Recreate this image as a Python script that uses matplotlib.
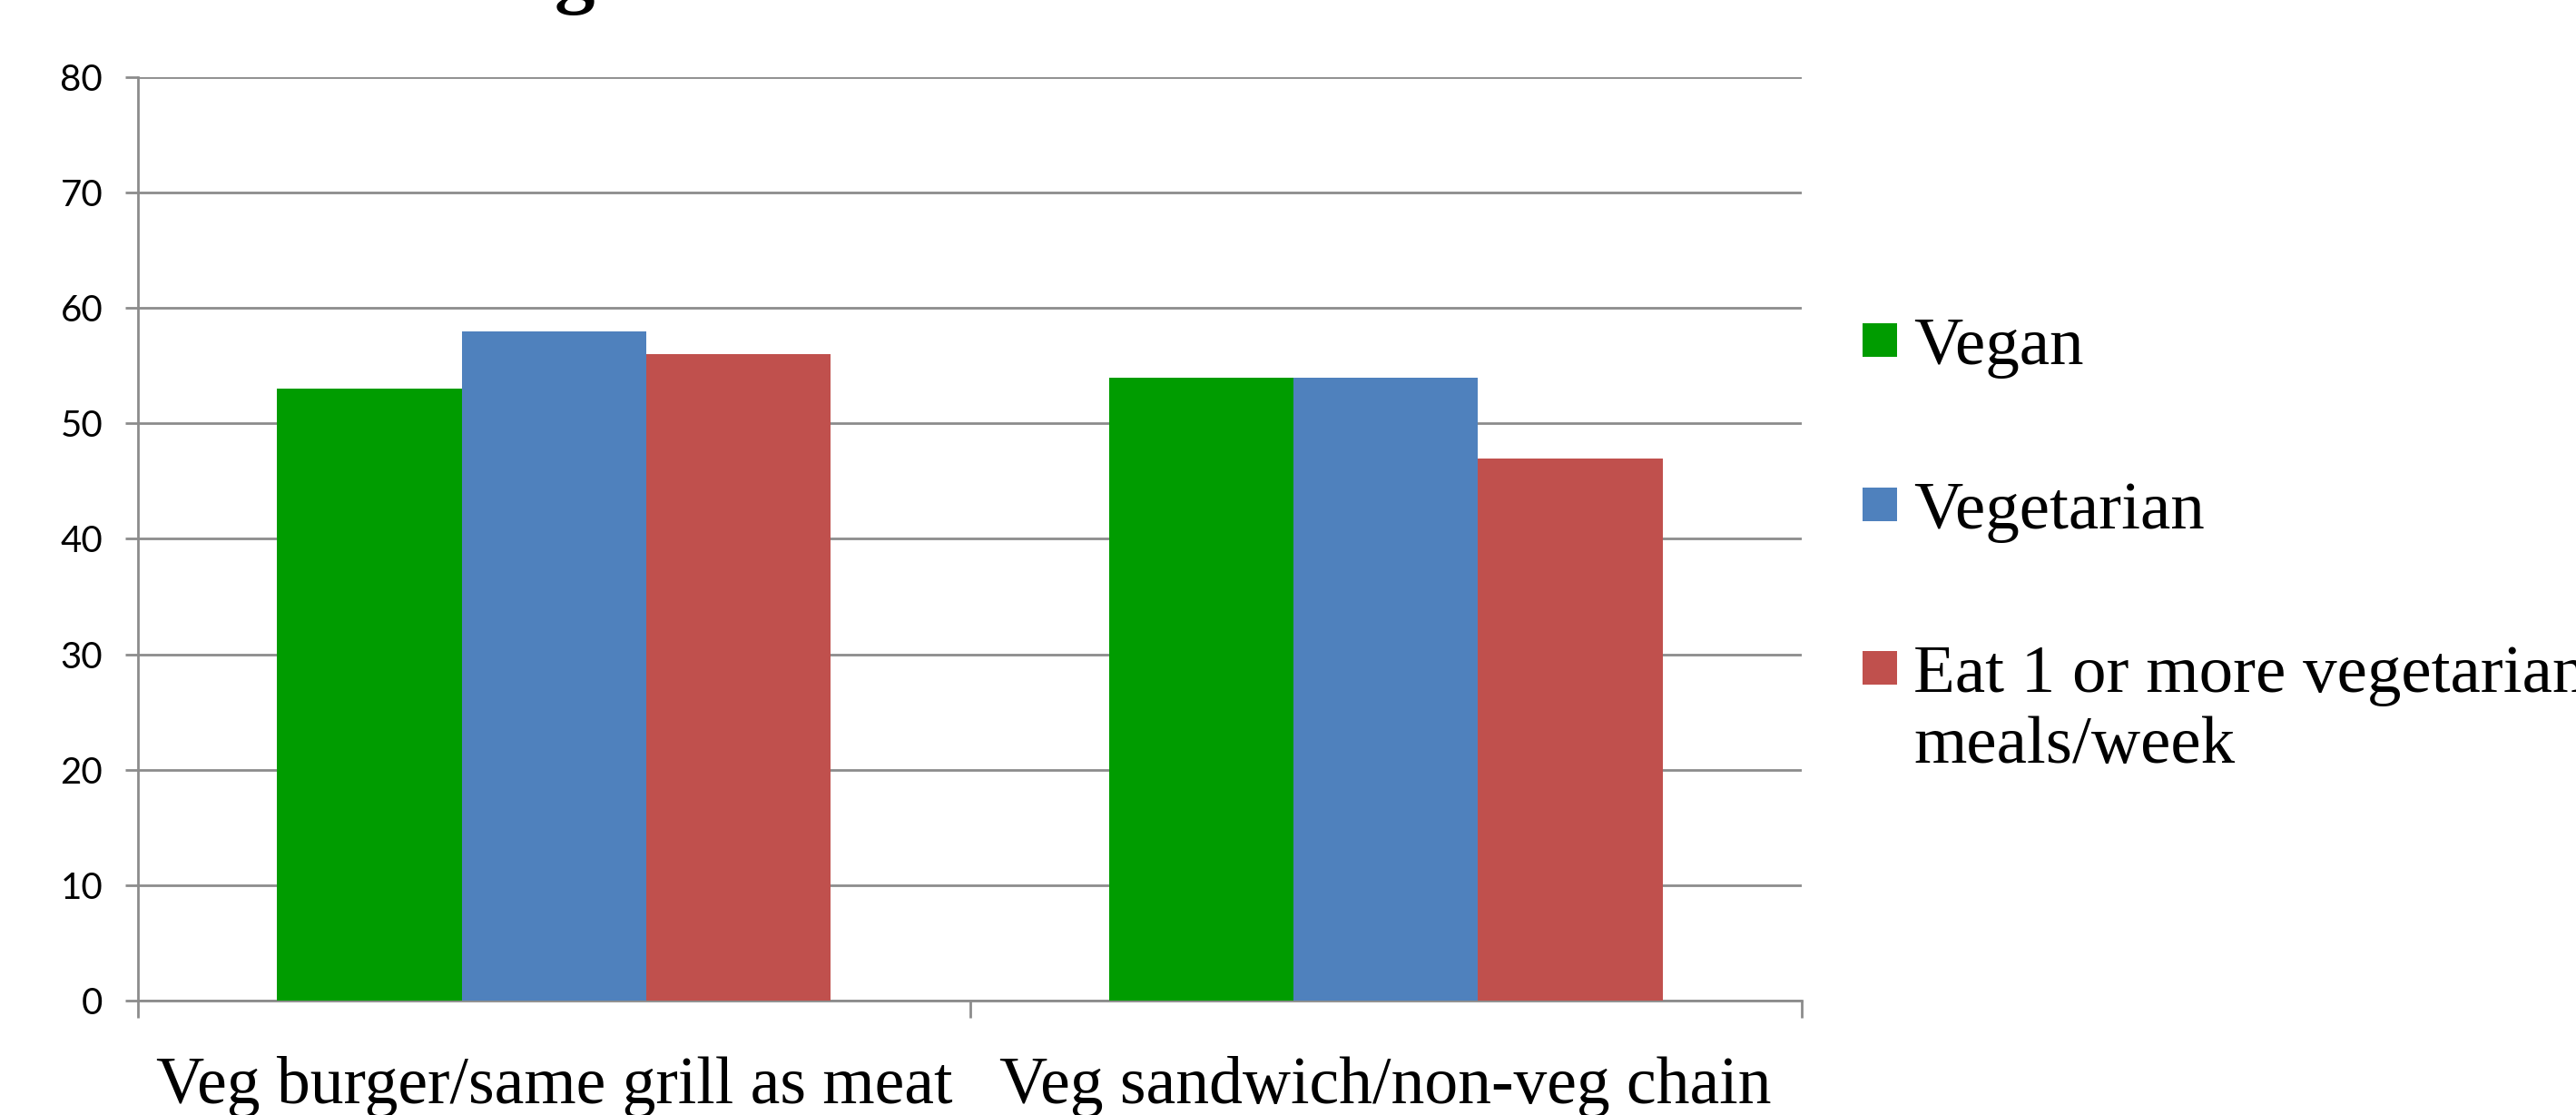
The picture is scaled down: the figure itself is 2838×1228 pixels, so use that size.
import matplotlib
matplotlib.use("Agg")
import matplotlib.pyplot as plt
from matplotlib.patches import Rectangle
import numpy as np

CATEGORIES = ["Veg burger/same grill as meat", "Veg sandwich/non-veg chain"]
SERIES = ["Vegan", "Vegetarian", "Eat 1 or more vegetarian\nmeals/week"]
VALUES = [
    [53, 54],
    [58, 54],
    [56, 47],
]
COLORS = ["#009C00", "#4F81BD", "#C0504D"]
Y_TICKS = [0, 10, 20, 30, 40, 50, 60, 70, 80]

GRID = "#8C8C8C"
SERIF = ["Liberation Serif", "DejaVu Serif"]
SANS = ["Liberation Sans Narrow", "Lato", "DejaVu Sans"]

fig = plt.figure(figsize=(28.38, 12.28), dpi=100)
ax = fig.add_axes([0.0536, 0.1026, 0.6458, 0.8282])

x = np.arange(len(CATEGORIES))
bar_w = 0.222
for i, (vals, color) in enumerate(zip(VALUES, COLORS)):
    ax.bar(x + (i - 1) * bar_w, vals, bar_w, color=color, linewidth=0, zorder=3)

ax.set_xlim(-0.5, len(CATEGORIES) - 0.5)
ax.set_ylim(0, 80)
ax.set_yticks(Y_TICKS)
ax.set_yticklabels([str(t) for t in Y_TICKS], fontsize=29, family=SANS)
ax.yaxis.grid(True, color=GRID, linewidth=2, zorder=0)
ax.tick_params(axis="y", length=10, width=2, color=GRID, pad=18)

# category boundaries as ticks, names on minor ticks at the group centres
ax.set_xticks(np.arange(len(CATEGORIES) + 1) - 0.5)
ax.set_xticklabels([])
ax.set_xticks(x, minor=True)
ax.set_xticklabels(CATEGORIES, minor=True, fontsize=53, family=SERIF)
ax.tick_params(axis="x", which="major", length=14, width=2, color=GRID, direction="out")
ax.tick_params(axis="x", which="minor", length=0, pad=44)

for side in ("top", "right"):
    ax.spines[side].set_visible(False)
for side in ("left", "bottom"):
    ax.spines[side].set_color(GRID)
    ax.spines[side].set_linewidth(2)

# legend drawn by hand: square markers with serif labels beside them
row_y = [0.680, 0.533, 0.386]
for label, color, yy in zip(SERIES, COLORS, row_y):
    fig.add_artist(Rectangle((0.7231, yy - 0.0002), 0.0134, 0.0301,
                             transform=fig.transFigure, color=color, linewidth=0))
    fig.text(0.7428, yy + 0.0351, label, fontsize=54, family=SERIF,
             va="top", ha="left", linespacing=1.2)

# heading sits mostly above the top edge
fig.text(0.2152, 1.0016, "g", fontsize=64, family=SERIF, weight="bold",
         va="baseline", ha="left")

fig.savefig("out.png", dpi=100)
